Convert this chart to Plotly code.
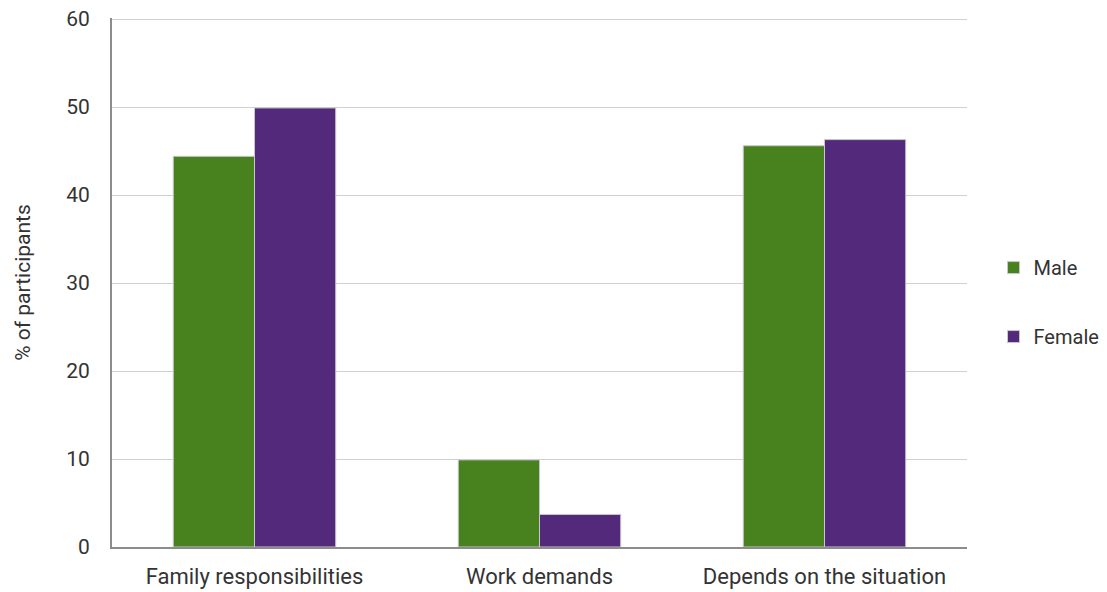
import plotly.graph_objects as go

categories = ["Family responsibilities", "Work demands", "Depends on the situation"]
male = [44.4, 9.9, 45.6]
female = [49.9, 3.7, 46.3]
y_ticks = [0, 10, 20, 30, 40, 50, 60]

FONT = "Roboto"
TEXT = "#333333"

fig = go.Figure()
fig.add_trace(go.Bar(
    x=categories, y=male, name="Male", legendgroup="m",
    marker=dict(color="#47821e", line=dict(color="#c8c8c8", width=1)),
))
fig.add_trace(go.Bar(
    x=categories, y=female, name="Female", legendgroup="f",
    marker=dict(color="#532a7b", line=dict(color="#c8c8c8", width=1)),
))

fig.update_layout(
    width=1107, height=592,
    margin=dict(l=112, r=140, t=18, b=45, autoexpand=False),
    plot_bgcolor="white", paper_bgcolor="white",
    barmode="group", bargap=0.43, bargroupgap=0,
    font=dict(family=FONT, size=21, color=TEXT),
    legend=dict(
        x=1.031, y=0.463, xanchor="left", yanchor="middle",
        traceorder="grouped", tracegroupgap=40,
        font=dict(size=20, color=TEXT), itemwidth=30,
        bgcolor="rgba(0,0,0,0)",
    ),
    xaxis=dict(
        showline=True, linecolor="#8c8c8c", linewidth=2,
        ticks="", tickfont=dict(size=22, color=TEXT),
        ticklabelstandoff=9, automargin=False,
    ),
    yaxis=dict(
        range=[0, 60.12], tickvals=y_ticks,
        showgrid=True, gridcolor="#d0d0d0", gridwidth=1,
        showline=True, linecolor="#8c8c8c", linewidth=2,
        zeroline=False, ticks="", ticklabelstandoff=16,
        tickfont=dict(size=21, color=TEXT),
        title=dict(text="% of participants", font=dict(size=21, color=TEXT), standoff=30),
        automargin=False,
    ),
)

fig.write_html("out.html")
